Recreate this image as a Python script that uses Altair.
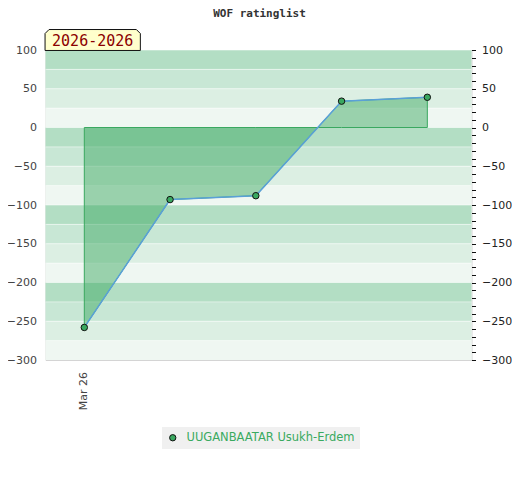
import altair as alt
import pandas as pd

# ---- data ----
x_index = [0, 1, 2, 3, 4]
ratings = [-258, -93, -88, 34, 39]
player = "UUGANBAATAR Usukh-Erdem"
x_tick_values = [0]
x_tick_labels = ["Mar 26"]
chart_title = "WOF ratinglist"
period_label = "2026-2026"

y_domain = [-300, 100]
x_domain = [-0.4525, 4.515]

band_tops = [100, 75, 50, 25, 0, -25, -50, -75, -100, -125, -150, -175,
             -200, -225, -250, -275]
band_shades = ["#b3dec4", "#c8e7d5", "#dcefe3", "#eff7f2"] * 4

W, H = 426, 310
GREEN = "#3aa860"

df = pd.DataFrame({"x": x_index, "rating": ratings, "player": [player] * len(x_index)})
bands = pd.DataFrame({
    "top": band_tops,
    "bottom": [t - 25 for t in band_tops],
    "shade": band_shades,
})
xticks = pd.DataFrame({"x": x_tick_values, "label": x_tick_labels})

yscale = alt.Scale(domain=y_domain, nice=False, zero=False)
xscale = alt.Scale(domain=x_domain, nice=False, zero=False)

band_layer = alt.Chart(bands).mark_rect().encode(
    x=alt.value(0), x2=alt.value(W),
    y=alt.Y("top:Q", scale=yscale, axis=alt.Axis(
        values=list(range(100, -301, -50)), title=None, ticks=False, domain=False,
        grid=False, labelFont="DejaVu Sans", labelFontSize=11, labelColor="#444",
        labelPadding=9, orient="left")),
    y2="bottom:Q",
    fill=alt.Fill("shade:N", scale=None),
)

grid_layer = alt.Chart(bands).mark_rule(color="#ffffff", opacity=0.5, strokeWidth=1).encode(
    x=alt.value(0), x2=alt.value(W),
    y=alt.Y("top:Q", scale=yscale, axis=None),
)

area_layer = alt.Chart(df).mark_area(
    color=GREEN, fillOpacity=0.48, stroke=GREEN, strokeWidth=1, strokeOpacity=1
).encode(
    x=alt.X("x:Q", scale=xscale, axis=None),
    y=alt.Y("rating:Q", scale=yscale, axis=None),
    y2=alt.datum(0),
)

line_layer = alt.Chart(df).mark_line(color="#5aa0d8", strokeWidth=1.5).encode(
    x=alt.X("x:Q", scale=xscale, axis=None),
    y=alt.Y("rating:Q", scale=yscale, axis=None),
)

point_layer = alt.Chart(df).mark_point(
    filled=True, size=42, stroke="#111", strokeWidth=1, opacity=1
).encode(
    x=alt.X("x:Q", scale=xscale, axis=None),
    y=alt.Y("rating:Q", scale=yscale, axis=alt.Axis(
        values=list(range(100, -301, -10)), orient="right", title=None,
        labelExpr="datum.value % 50 == 0 ? datum.label : ''",
        ticks=True, tickSize=4, tickColor="#111", domain=False, grid=False,
        labelFont="DejaVu Sans", labelFontSize=11, labelColor="#222",
        labelPadding=6)),
    color=alt.Color("player:N", scale=alt.Scale(range=[GREEN]), legend=alt.Legend(
        title=None, orient="none", legendX=116.5, legendY=377,
        fillColor="#f0f0f0", padding=5, symbolType="circle", symbolSize=40,
        symbolFillColor=GREEN, symbolStrokeColor="#111", symbolStrokeWidth=1,
        labelColor="#3aaa60", labelFont="DejaVu Sans", labelFontSize=11.5,
        labelOffset=8, labelLimit=400)),
)

xlabel_layer = alt.Chart(xticks).mark_text(
    font="DejaVu Sans", fontSize=11, color="#444", angle=270, align="right",
    baseline="middle"
).encode(
    x=alt.X("x:Q", scale=xscale, axis=None),
    y=alt.value(H + 12),
    text="label:N",
)

box_shape = ("M-1,0.22 L-1,-0.136 L-0.916,-0.22 L0.916,-0.22 "
             "L1,-0.136 L1,0.22 Z")
box_layer = alt.Chart(pd.DataFrame({"label": [period_label]})).mark_point(
    shape=box_shape, size=95.3 ** 2, filled=True, fill="#ffffcc",
    stroke="#111", strokeWidth=1, opacity=1
).encode(x=alt.value(47.2), y=alt.value(-10))

box_text = alt.Chart(pd.DataFrame({"label": [period_label]})).mark_text(
    font="DejaVu Sans Mono", fontSize=15, color="#8b0000", align="center",
    baseline="middle"
).encode(x=alt.value(47.2), y=alt.value(-9.5), text="label:N")

title_text = alt.Chart(pd.DataFrame({"t": [chart_title]})).mark_text(
    font="DejaVu Sans Mono", fontSize=11, fontWeight="bold", color="#333",
    align="center", baseline="alphabetic"
).encode(x=alt.value(W / 2 + 1), y=alt.value(-33), text="t:N")

chart = alt.layer(
    band_layer, grid_layer, area_layer, line_layer, point_layer, xlabel_layer,
    box_layer, box_text, title_text
).resolve_scale(y="independent").properties(
    width=W, height=H,
    autosize=alt.AutoSizeParams(type="none"),
    padding={"left": 37.5, "top": 42, "right": 40, "bottom": 100},
).configure_view(stroke="#d4d4d4", strokeWidth=1)

chart.save("out.html", embed_options={"renderer": "svg", "actions": False})
